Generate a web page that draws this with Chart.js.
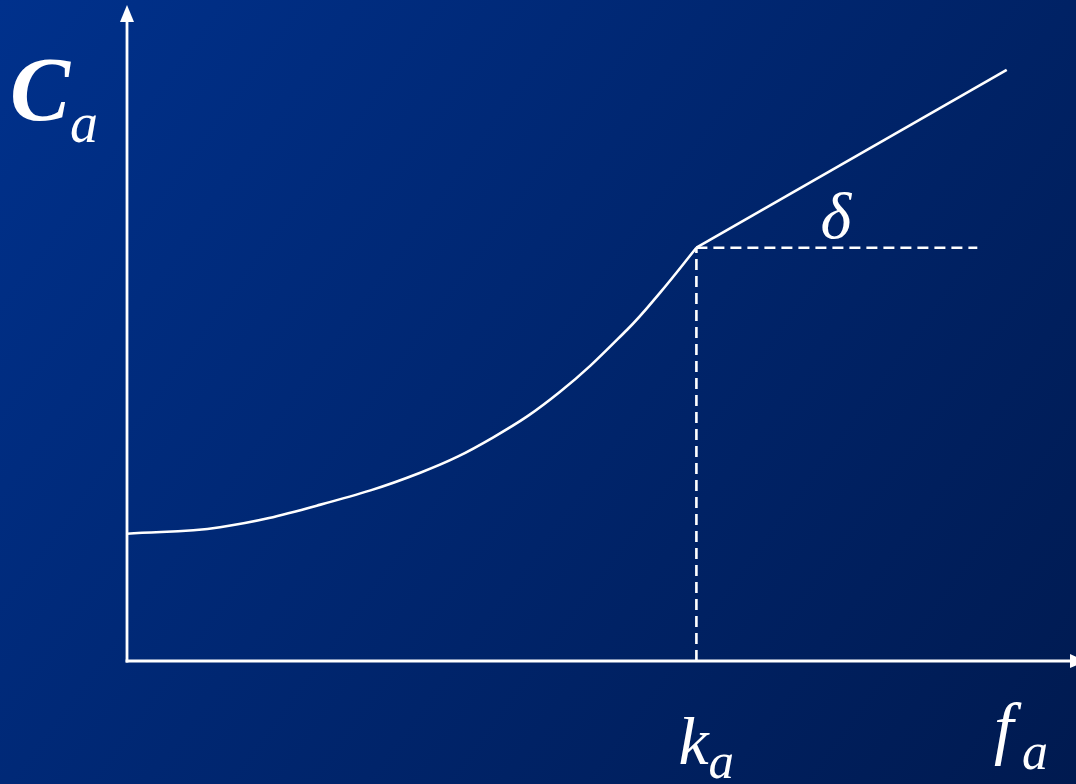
<!DOCTYPE html>
<html>
<head>
<meta charset="utf-8">
<script src="https://cdn.jsdelivr.net/npm/chart.js@4"></script>
<style>
  html, body { margin: 0; padding: 0; background: #00266e; overflow: hidden; }
  #box { position: relative; width: 1076px; height: 784px; }
  .rot { position: absolute; color: #fff; font-family: "Liberation Serif", "Times New Roman", serif;
         font-style: italic; line-height: 1; white-space: nowrap; }
</style>
</head>
<body>
<div id="box"><canvas id="grafico"></canvas></div>
<script>
// curva de custo ate o joelho (unidades do grafico, 0..10 nos dois eixos)
const curvaX = [0, 0.98, 2.03, 3.09, 3.86, 4.56, 5.27, 5.62, 6.0];
const curvaY = [1.94, 2.04, 2.38, 2.87, 3.41, 4.10, 5.05, 5.62, 6.30];
// trecho reto depois do joelho
const retaX = [6.0, 9.27];
const retaY = [6.30, 9.01];
const ka = 6.0;
const kaY = 6.30;
const deltaFim = 8.96;   // fim da tracejada horizontal
const limX = [0, 10];
const limY = [0, 10];

const pares = (xs, ys) => xs.map((v, i) => ({x: v, y: ys[i]}));

const fundo = {
  id: 'fundo',
  beforeDraw(chart) {
    const {ctx, width, height} = chart;
    const g = ctx.createLinearGradient(0, 0, width, height);
    g.addColorStop(0, '#00318c');
    g.addColorStop(1, '#001a50');
    ctx.save();
    ctx.fillStyle = g;
    ctx.fillRect(0, 0, width, height);
    ctx.restore();
  }
};

const eixos = {
  id: 'eixos',
  afterDatasetsDraw(chart) {
    const {ctx} = chart;
    const sx = chart.scales.x, sy = chart.scales.y;
    const x0 = sx.getPixelForValue(0), y0 = sy.getPixelForValue(0);
    const topo = sy.getPixelForValue(limY[1]);
    const dir = chart.width;
    ctx.save();
    ctx.strokeStyle = '#fff';
    ctx.fillStyle = '#fff';
    ctx.lineWidth = 2.8;
    ctx.beginPath(); ctx.moveTo(x0, y0 + 1.4); ctx.lineTo(x0, topo + 14); ctx.stroke();
    ctx.beginPath(); ctx.moveTo(x0 - 1.4, y0); ctx.lineTo(dir - 6, y0); ctx.stroke();
    // pontas de seta
    ctx.beginPath(); ctx.moveTo(x0, topo); ctx.lineTo(x0 - 7, topo + 17); ctx.lineTo(x0 + 7, topo + 17); ctx.closePath(); ctx.fill();
    ctx.beginPath(); ctx.moveTo(dir + 10, y0); ctx.lineTo(dir - 6, y0 - 7); ctx.lineTo(dir - 6, y0 + 7); ctx.closePath(); ctx.fill();
    ctx.restore();
  }
};

const linha = (data, extra) => Object.assign({
  data,
  borderColor: '#ffffff',
  borderWidth: 2.6,
  pointRadius: 0,
  fill: false,
  clip: false
}, extra);

const graph = new Chart(document.getElementById('grafico').getContext('2d'), {
  type: 'line',
  data: {
    datasets: [
      linha(pares(curvaX, curvaY), {tension: 0.4}),
      linha(pares(retaX, retaY)),
      linha([{x: ka, y: 0}, {x: ka, y: kaY}], {borderDash: [11, 6]}),
      linha([{x: ka, y: kaY}, {x: deltaFim, y: kaY}], {borderDash: [11, 6]})
    ]
  },
  options: {
    responsive: true,
    maintainAspectRatio: false,
    animation: false,
    layout: { padding: {left: 127, right: 0, top: 5, bottom: 123} },
    plugins: { legend: {display: false}, tooltip: {enabled: false} },
    scales: {
      x: {type: 'linear', min: limX[0], max: limX[1], display: false},
      y: {type: 'linear', min: limY[0], max: limY[1], display: false}
    }
  },
  plugins: [fundo, eixos]
});

// rotulos em texto, presos pela linha de base (line-height 1 => base a 0.8375em do topo)
function rotulo(txt, x, base, tam, negrito) {
  const s = document.createElement('span');
  s.className = 'rot';
  s.textContent = txt;
  s.style.fontSize = tam + 'px';
  if (negrito) s.style.fontWeight = 'bold';
  s.style.left = x + 'px';
  s.style.top = (base - 0.8375 * tam) + 'px';
  document.getElementById('box').appendChild(s);
}
{
  const sx = graph.scales.x, sy = graph.scales.y;
  const x0 = sx.getPixelForValue(0);
  const kx = sx.getPixelForValue(ka);
  const dy = sy.getPixelForValue(kaY);
  rotulo('C', x0 - 117, 120, 90, true);
  rotulo('a', x0 - 57, 142, 56);
  rotulo('k', kx - 18, 764, 68);
  rotulo('a', kx + 12, 779, 51);
  rotulo('f', 994, 752, 70);
  rotulo('a', 1022, 770, 52);
  rotulo('\u03b4', kx + 124, dy - 9, 66);
}
</script>
</body>
</html>
